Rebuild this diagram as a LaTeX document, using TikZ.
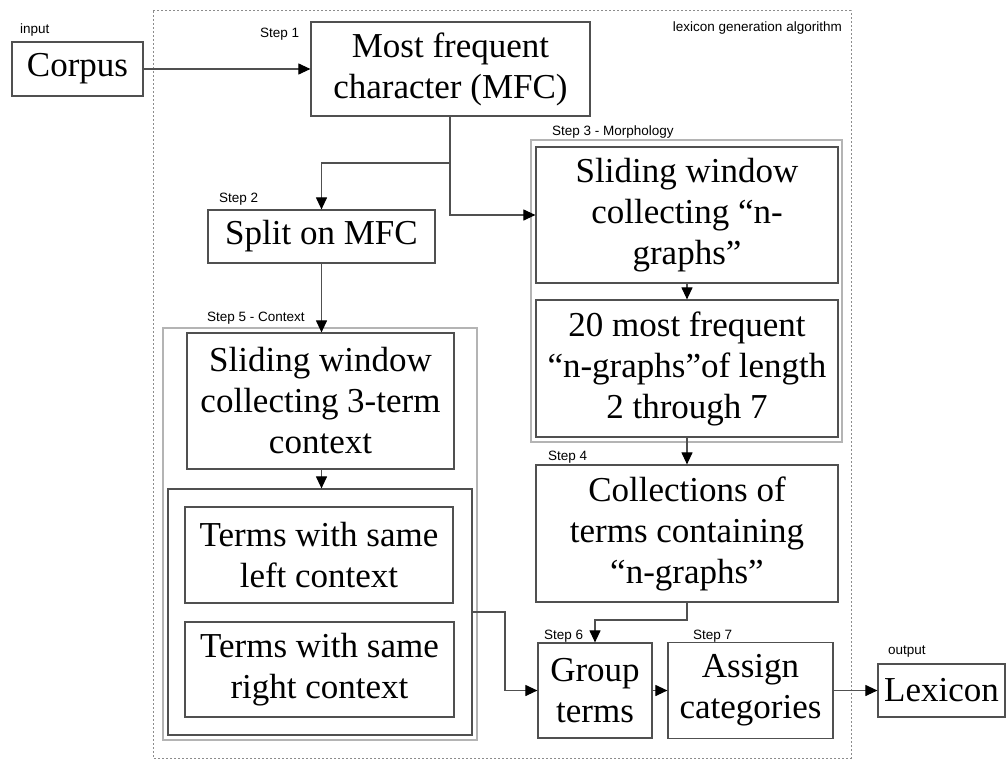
\documentclass[tikz,border=0pt]{standalone}
\usepackage{fontspec}
\setmainfont{Liberation Serif}
\newfontfamily\lblfont{Liberation Sans}
\usetikzlibrary{arrows.meta}
\definecolor{boxline}{HTML}{505050}
\definecolor{grpline}{HTML}{B4B4B4}
\definecolor{dashline}{HTML}{8C8C8C}
\tikzset{
  stepbox/.style={draw=boxline, line width=1.2pt, inner sep=0pt, align=center,
    font=\fontsize{35}{41}\selectfont},
  grpbox/.style={draw=grpline, line width=1.5pt},
  lbl/.style={inner sep=0pt, text=black, font=\lblfont\fontsize{13.5}{15}\selectfont},
  conn/.style={draw=boxline, line width=1.1pt, -{Triangle[length=12pt,width=11pt,fill=black,color=black]}},
  plain/.style={draw=boxline, line width=1.1pt}
}
\begin{document}
\begin{tikzpicture}[x=1pt,y=-1pt]
\useasboundingbox[fill=white] (0,0) rectangle (1006,760);
% outer dashed frame
\draw[dashline, line width=1pt, dash pattern=on 2pt off 2pt] (153,11) rectangle (851,758);
% group boxes
\draw[grpbox] (531,140) rectangle (842,442);
\draw[grpbox] (163,328) rectangle (477,740);
% nodes
\node[stepbox, minimum width=131pt, minimum height=54pt] (corpus) at (77.5,69) {Corpus};
\node[stepbox, minimum width=279pt, minimum height=94pt] (mfc) at (450.5,69) {Most frequent\\character (MFC)};
\node[stepbox, minimum width=227pt, minimum height=53pt] (split) at (321.5,236.5) {Split on MFC};
\node[stepbox, minimum width=267pt, minimum height=136pt] (sw5) at (320.5,401) {Sliding window\\collecting 3-term\\context};
\node[stepbox, minimum width=304pt, minimum height=246pt] (cont) at (320,612) {};
\node[stepbox, minimum width=268pt, minimum height=96pt] (left) at (319,555) {Terms with same\\left context};
\node[stepbox, minimum width=269pt, minimum height=95pt] (right) at (319.5,669.5) {Terms with same\\right context};
\node[stepbox, minimum width=302pt, minimum height=136pt] (sw3) at (687,215) {Sliding window\\collecting “n-\\graphs”};
\node[stepbox, minimum width=302pt, minimum height=137pt] (most) at (687,368.5) {20 most frequent\\“n-graphs”of length\\2 through 7};
\node[stepbox, minimum width=302pt, minimum height=137pt] (coll) at (687,533.5) {Collections of\\terms containing\\“n-graphs”};
\node[stepbox, minimum width=114pt, minimum height=95pt] (group) at (595,690.5) {Group\\terms};
\node[stepbox, minimum width=165pt, minimum height=96pt] (assign) at (750.5,690.5) {Assign\\categories};
\node[stepbox, minimum width=127pt, minimum height=53pt] (lex) at (941.5,690.5) {Lexicon};
% labels
\node[lbl, anchor=west] (linput) at (20,30) {input};
\node[lbl, anchor=west] (lstep1) at (260,34) {Step 1};
\node[lbl, anchor=east] (lalg) at (842,28) {lexicon generation algorithm};
\node[lbl, anchor=west] (lstep2) at (219,199) {Step 2};
\node[lbl, anchor=west] (lstep3) at (552,132) {Step 3 - Morphology};
\node[lbl, anchor=west] (lstep5) at (207,318) {Step 5 - Context};
\node[lbl, anchor=west] (lstep4) at (548,457) {Step 4};
\node[lbl, anchor=west] (lstep6) at (544,636) {Step 6};
\node[lbl, anchor=west] (lstep7) at (693,636) {Step 7};
\node[lbl, anchor=west] (loutput) at (888,652) {output};
% connector waypoints
\coordinate (j1) at (450,163);
\coordinate (j2) at (505,612);
\coordinate (j3) at (687,620);
% connectors
\draw[conn] (corpus.east) -- (mfc.west);
\draw[plain] (mfc.south -| j1) -- (j1);
\draw[conn] (j1) -| (split.north);
\draw[conn] (j1) |- (sw3.west);
\draw[conn] (split.south) -- (sw5.north -| split.south);
\draw[conn] (sw5.south -| split.south) -- (cont.north -| split.south);
\draw[conn] (cont.east) -- (j2) |- (group.west);
\draw[conn] (sw3.south) -- (most.north);
\draw[conn] (most.south) -- (coll.north);
\draw[conn] (coll.south) -- (j3) -| (group.north);
\draw[conn] (group.east) -- (assign.west);
\draw[conn] (assign.east) -- (lex.west);
\end{tikzpicture}
\end{document}
